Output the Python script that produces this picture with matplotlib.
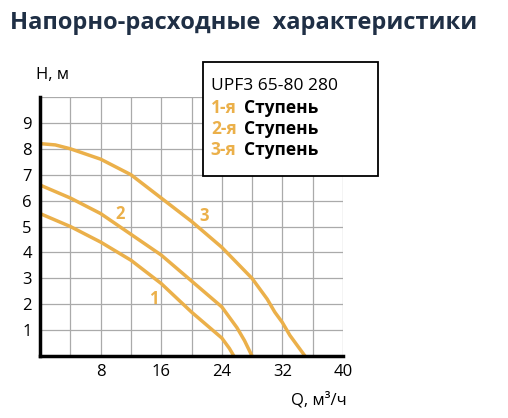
import matplotlib.pyplot as plt

plt.rcParams['font.family'] = ['Open Sans', 'DejaVu Sans']

q3 = [0, 2, 4, 8, 12, 16, 20, 24, 28, 30, 31, 32, 33, 34, 35]
h3 = [8.2, 8.15, 8.0, 7.6, 7.0, 6.1, 5.2, 4.2, 3.0, 2.2, 1.7, 1.3, 0.8, 0.4, 0]
q2 = [0, 4, 8, 12, 16, 20, 24, 25, 26, 27, 28]
h2 = [6.6, 6.1, 5.5, 4.7, 3.9, 2.9, 1.9, 1.5, 1.1, 0.6, 0]
q1 = [0, 4, 8, 12, 16, 20, 22, 24, 25, 25.6]
h1 = [5.5, 5.0, 4.4, 3.7, 2.8, 1.7, 1.2, 0.7, 0.3, 0]

orange = "#EBB04A"
fig = plt.figure(figsize=(5.08, 4.18), dpi=100)
fig.text(0.02, 0.93, "Напорно-расходные  характеристики", fontsize=17,
         fontweight="bold", color="#1f2f45")
ax = fig.add_axes([0.079, 0.148, 0.596, 0.62])
for q, h in [(q1, h1), (q2, h2), (q3, h3)]:
    ax.plot(q, h, color=orange, lw=2.5, solid_capstyle="round", solid_joinstyle="round")
ax.set_xlim(0, 40)
ax.set_ylim(0, 10)
ax.set_xticks(range(0, 41, 4))
ax.set_xticklabels(["" if v % 8 or v == 0 else str(v) for v in range(0, 41, 4)])
ax.set_yticks(range(0, 11))
ax.set_yticklabels([""] + [str(v) for v in range(1, 10)] + [""])
ax.grid(True, color="#aaaaaa", lw=0.9)
ax.tick_params(length=0, labelsize=12, pad=6)
for s in ["top", "right"]:
    ax.spines[s].set_visible(False)
for s in ["left", "bottom"]:
    ax.spines[s].set_linewidth(2.5)
ax.text(-0.5, 10.7, "H, м", fontsize=12, ha="left")
ax.text(40.5, -1.85, "Q, м³/ч", fontsize=12, ha="right")
ax.text(14.4, 2.0, "1", color=orange, fontsize=12, fontweight="bold")
ax.text(10.0, 5.3, "2", color=orange, fontsize=12, fontweight="bold")
ax.text(21.0, 5.2, "3", color=orange, fontsize=12, fontweight="bold")

# legend box
fig.patches.append(plt.Rectangle((0.40, 0.58), 0.345, 0.272, transform=fig.transFigure,
                                 facecolor="white", edgecolor="black", lw=1.3))
fig.text(0.415, 0.785, "UPF3 65-80 280", fontsize=12.5)
labels = ["1-я", "2-я", "3-я"]
for i, lab in enumerate(labels):
    y = 0.73 - i * 0.05
    fig.text(0.415, y, lab, fontsize=12.5, color=orange, fontweight="bold")
    fig.text(0.48, y, "Ступень", fontsize=12.5, fontweight="bold")
fig.savefig("out.png", dpi=100)
